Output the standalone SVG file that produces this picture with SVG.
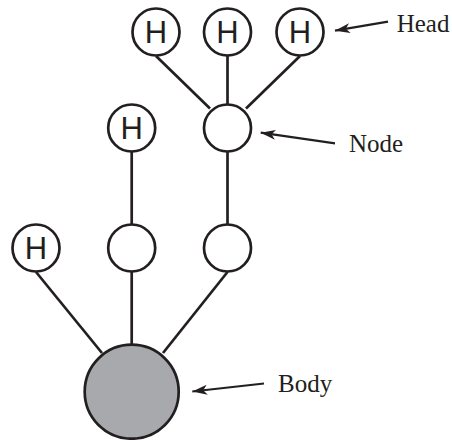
<svg xmlns="http://www.w3.org/2000/svg" width="452" height="440" viewBox="0 0 452 440">
  <style>
    .node circle { fill: #ffffff; stroke: #231f20; stroke-width: 2.7; }
    .node.body circle { fill: #a7a9ac; }
    .node text { font-family: "Liberation Sans", Arial, sans-serif; font-size: 31px; fill: #231f20; text-anchor: middle; }
    .links line { stroke: #231f20; stroke-width: 2.7; }
    .callouts line { stroke: #231f20; stroke-width: 2.2; }
    .label { font-family: "Liberation Serif", "Times New Roman", serif; font-size: 25px; fill: #231f20; }
  </style>
  <defs>
    <marker id="barb" markerUnits="userSpaceOnUse" markerWidth="16" markerHeight="12" viewBox="0 -6 16 12" refX="15" refY="0" orient="auto">
      <path d="M15,0 L0,-5 L4,0 L0,5 Z" fill="#231f20"/>
    </marker>
  </defs>

  <!-- connectors between nodes -->
  <g id="links" class="links">
    <line x1="156" y1="56" x2="210" y2="108.5"/>
    <line x1="227.5" y1="56" x2="227.5" y2="104"/>
    <line x1="300" y1="56" x2="246" y2="108.5"/>
    <line x1="131.7" y1="152" x2="131.7" y2="224"/>
    <line x1="227.5" y1="152" x2="227.5" y2="224"/>
    <line x1="36" y1="272" x2="102" y2="353"/>
    <line x1="131.7" y1="272" x2="131.7" y2="344"/>
    <line x1="227.5" y1="272" x2="163" y2="353"/>
  </g>

  <!-- heads -->
  <g id="head-1" class="node"><circle cx="156" cy="32" r="23.5"/><text x="156" y="43.3">H</text></g>
  <g id="head-2" class="node"><circle cx="227.5" cy="32" r="23.5"/><text x="227.5" y="43.3">H</text></g>
  <g id="head-3" class="node"><circle cx="300" cy="32" r="23.5"/><text x="300" y="43.3">H</text></g>
  <g id="head-4" class="node"><circle cx="131.7" cy="128" r="23.5"/><text x="131.7" y="139.3">H</text></g>
  <g id="head-5" class="node"><circle cx="36" cy="248" r="23.5"/><text x="36" y="259.3">H</text></g>

  <!-- plain nodes -->
  <g id="node-1" class="node"><circle cx="227.5" cy="128" r="23.5"/></g>
  <g id="node-2" class="node"><circle cx="131.7" cy="248" r="23.5"/></g>
  <g id="node-3" class="node"><circle cx="227.5" cy="248" r="23.5"/></g>

  <!-- body -->
  <g id="body" class="node body"><circle cx="131.7" cy="391.7" r="47"/></g>

  <!-- callout arrows and labels -->
  <g id="callouts" class="callouts">
    <line x1="388" y1="21.7" x2="335" y2="30.7" marker-end="url(#barb)"/>
    <line x1="335" y1="143.3" x2="260.7" y2="132.7" marker-end="url(#barb)"/>
    <line x1="264" y1="383.5" x2="192.3" y2="391.5" marker-end="url(#barb)"/>
  </g>
  <text class="label" x="396.7" y="31.7">Head</text>
  <text class="label" x="349" y="151.7">Node</text>
  <text class="label" x="278" y="391.7">Body</text>
</svg>
